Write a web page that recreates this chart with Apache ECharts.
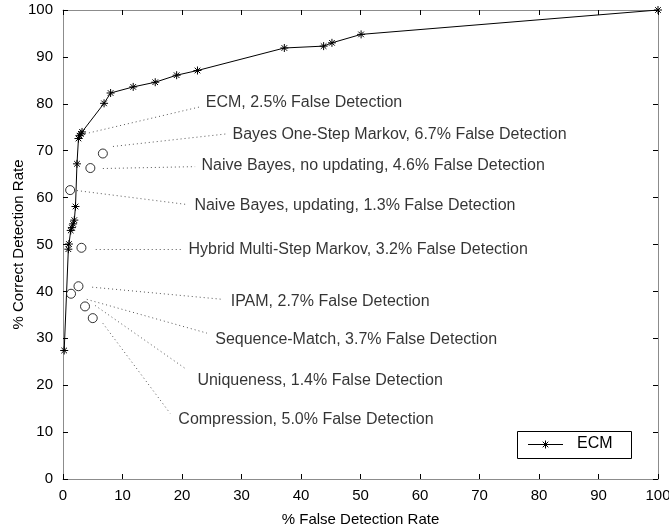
<!DOCTYPE html>
<html>
<head>
<meta charset="utf-8">
<script src="https://cdn.jsdelivr.net/npm/echarts@6/dist/echarts.min.js"></script>
<style>html,body{margin:0;padding:0;background:#fff}#c{width:669px;height:531px}</style>
</head>
<body>
<div id="c"></div>
<script>
// ECM ROC curve
const ecmFalse   = [0.2, 0.9, 1.0, 1.3, 1.5, 1.7, 1.9, 2.1, 2.35, 2.6, 2.8, 3.0, 3.2, 6.9, 8.0, 11.8, 15.5, 19.1, 22.6, 37.2, 43.8, 45.2, 50.1, 100];
const ecmCorrect = [27.4, 49.0, 50.1, 53.0, 53.6, 54.4, 55.2, 58.1, 67.2, 72.6, 73.2, 73.6, 74.0, 80.1, 82.3, 83.6, 84.6, 86.1, 87.1, 91.9, 92.3, 93.0, 94.8, 100];

// Other methods (single operating points)
const methodNames   = ['Bayes One-Step Markov', 'Naive Bayes, no updating', 'Naive Bayes, updating', 'Hybrid Multi-Step Markov', 'IPAM', 'Uniqueness', 'Sequence-Match', 'Compression'];
const methodFalse   = [6.7, 4.6, 1.2, 3.1, 2.6, 1.35, 3.7, 5.0];
const methodCorrect = [69.4, 66.3, 61.6, 49.3, 41.1, 39.5, 36.8, 34.3];

// Annotation texts and their anchor points (data coordinates)
const annoText = ['ECM, 2.5% False Detection', 'Bayes One-Step Markov, 6.7% False Detection', 'Naive Bayes, no updating, 4.6% False Detection', 'Naive Bayes, updating, 1.3% False Detection', 'Hybrid Multi-Step Markov, 3.2% False Detection', 'IPAM, 2.7% False Detection', 'Sequence-Match, 3.7% False Detection', 'Uniqueness, 1.4% False Detection', 'Compression, 5.0% False Detection'];
const annoTextX = [23.9, 28.4, 23.2, 22.0, 21.0, 28.1, 25.5, 22.5, 19.3];
const annoTextY = [80.2, 73.4, 66.8, 58.3, 49.0, 37.9, 29.7, 21.0, 12.7];
const annoFromX = [3.7, 8.4, 6.7, 2.35, 5.5, 4.9, 4.0, 5.4, 6.7];
const annoFromY = [73.6, 70.9, 66.2, 61.5, 49.0, 40.9, 38.3, 37.0, 33.2];
const annoToX   = [23.2, 27.6, 22.2, 21.0, 20.2, 26.9, 24.2, 20.5, 18.0];
const annoToY   = [79.4, 73.6, 66.6, 58.5, 49.0, 38.3, 31.1, 23.6, 14.0];

const xTicks = [0, 10, 20, 30, 40, 50, 60, 70, 80, 90, 100];
const yTicks = [0, 10, 20, 30, 40, 50, 60, 70, 80, 90, 100];

const FONT = 'Liberation Sans, Arial, sans-serif';
const asterisk = 'path://M0,-10L0,10M-10,0L10,0M-7,-7L7,7M-7,7L7,-7';

const chart = echarts.init(document.getElementById('c'), null, {renderer: 'canvas'});

const axisColor = '#8c8c8c';
function baseAxis(extra) {
  return Object.assign({
    type: 'value', min: 0, max: 100, interval: 10,
    axisLine: {show: true, onZero: false, lineStyle: {color: axisColor, width: 1}},
    axisTick: {show: true, inside: true, length: 5, lineStyle: {color: '#000'}},
    splitLine: {show: false}
  }, extra);
}

const ln = (x1, y1, x2, y2) => ({type: 'line', shape: {x1, y1, x2, y2}, style: {stroke: '#000', lineWidth: 1}});

chart.setOption({
  backgroundColor: '#fff',
  animation: false,
  grid: {left: 63, right: 11, top: 10, bottom: 52, outerBoundsMode: 'none', containLabel: false},
  xAxis: [
    baseAxis({
      position: 'bottom',
      name: '% False Detection Rate', nameLocation: 'middle', nameGap: 33, nameMoveOverlap: false,
      nameTextStyle: {fontFamily: FONT, fontSize: 15, color: '#000'},
      axisLabel: {fontFamily: FONT, fontSize: 15, color: '#000', margin: 9,
        formatter: v => xTicks.indexOf(v) >= 0 ? String(v) : ''}
    }),
    baseAxis({position: 'top', axisLabel: {show: false}})
  ],
  yAxis: [
    baseAxis({
      position: 'left',
      name: '% Correct Detection Rate', nameLocation: 'middle', nameGap: 37, nameMoveOverlap: false,
      nameTextStyle: {fontFamily: FONT, fontSize: 15, color: '#000'},
      axisLabel: {fontFamily: FONT, fontSize: 15, color: '#000', margin: 10,
        formatter: v => yTicks.indexOf(v) >= 0 ? String(v) : ''}
    }),
    baseAxis({position: 'right', axisLabel: {show: false}})
  ],
  graphic: [{
    type: 'group', x: 517, y: 431, z: 10,
    children: [
      {type: 'rect', shape: {x: 0.5, y: 0.5, width: 114, height: 27},
        style: {fill: '#fff', stroke: '#000', lineWidth: 1}},
      ln(11, 13.5, 46, 13.5),
      ln(28.5, 9.5, 28.5, 17.5),
      ln(24.5, 13.5, 32.5, 13.5),
      ln(25.7, 10.7, 31.3, 16.3),
      ln(25.7, 16.3, 31.3, 10.7),
      {type: 'text', x: 60, y: 5, style: {text: 'ECM', font: '16px ' + FONT, fill: '#000'}}
    ]
  }],
  series: [
    {
      type: 'lines', coordinateSystem: 'cartesian2d', silent: true, z: 1,
      polyline: false,
      lineStyle: {color: '#555', width: 1, type: [1, 3], opacity: 1},
      data: annoText.map((t, i) => ({coords: [[annoFromX[i], annoFromY[i]], [annoToX[i], annoToY[i]]]}))
    },
    {
      type: 'scatter', silent: true, symbol: 'circle', symbolSize: 1, z: 3,
      itemStyle: {color: 'rgba(0,0,0,0)'},
      label: {show: true, position: 'right', distance: 0, fontFamily: FONT, fontSize: 16, color: '#000',
        formatter: p => p.name},
      data: annoText.map((t, i) => ({name: t, value: [annoTextX[i], annoTextY[i]]}))
    },
    {
      name: 'ECM', type: 'line', z: 4,
      data: ecmFalse.map((x, i) => [x, ecmCorrect[i]]),
      symbol: asterisk, symbolSize: 8, showAllSymbol: true,
      lineStyle: {color: '#000', width: 1},
      itemStyle: {color: '#000', borderColor: '#000', borderWidth: 1}
    },
    {
      name: 'methods', type: 'scatter', z: 4,
      data: methodNames.map((n, i) => ({name: n, value: [methodFalse[i], methodCorrect[i]]})),
      symbol: 'circle', symbolSize: 9,
      itemStyle: {color: '#fff', borderColor: '#000', borderWidth: 1}
    }
  ]
});
</script>
</body>
</html>
